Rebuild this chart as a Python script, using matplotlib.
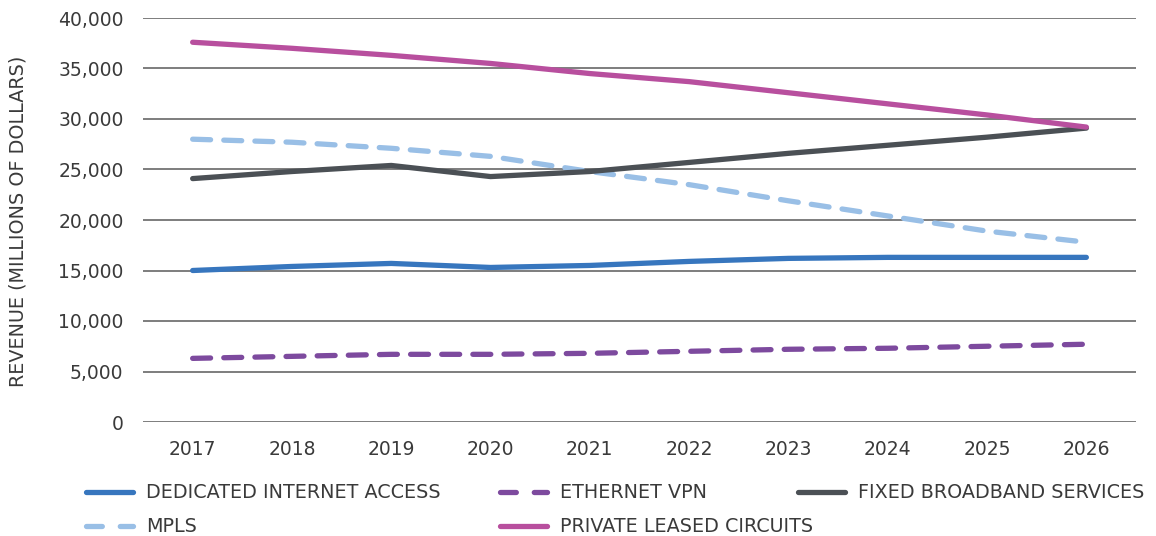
import matplotlib.pyplot as plt
from matplotlib.lines import Line2D
from matplotlib.ticker import FuncFormatter, MultipleLocator

years = ["2017", "2018", "2019", "2020", "2021", "2022", "2023", "2024", "2025", "2026"]

dedicated_internet = [15000, 15400, 15700, 15300, 15500, 15900, 16200, 16300, 16300, 16300]
ethernet_vpn = [6300, 6500, 6700, 6700, 6800, 7000, 7200, 7300, 7500, 7700]
fixed_broadband = [24100, 24800, 25400, 24300, 24800, 25700, 26600, 27400, 28200, 29100]
mpls = [28000, 27700, 27100, 26300, 24800, 23500, 21900, 20400, 18900, 17800]
private_leased = [37600, 37000, 36300, 35500, 34500, 33700, 32600, 31500, 30400, 29200]

SERIES = [
    ("DEDICATED INTERNET ACCESS", dedicated_internet, "#3776BE", "solid"),
    ("ETHERNET VPN", ethernet_vpn, "#7D4A9E", "dashed"),
    ("FIXED BROADBAND SERVICES", fixed_broadband, "#4B5055", "solid"),
    ("MPLS", mpls, "#99BFE6", "dashed"),
    ("PRIVATE LEASED CIRCUITS", private_leased, "#B84F9E", "solid"),
]

TEXT_COLOR = "#3a3a3a"
GRID_COLOR = "#5a5a5a"
LW = 3.8
DASHES = (3.4, 2.5)
FS_TICK = 13.5
FS_TEXT = 13.8

plt.rcParams["font.family"] = ["DejaVu Sans"]

W, H = 1156, 536
fig = plt.figure(figsize=(W / 100, H / 100), dpi=100)
ax = fig.add_axes([143 / W, 1 - 422 / H, (1136 - 143) / W, (422 - 18) / H])

x = list(range(len(years)))


def style_line(line, style):
    line.set_solid_capstyle("round")
    if style == "dashed":
        line.set_dashes(DASHES)
        line.set_dash_capstyle("round")


# draw in stacking order so the pink line sits on top at the 2026 crossover
for name, values, color, style in [SERIES[1], SERIES[0], SERIES[3], SERIES[2], SERIES[4]]:
    (ln,) = ax.plot(x, values, color=color, linewidth=LW, zorder=3)
    style_line(ln, style)

ax.set_xlim(-0.5, len(years) - 0.5)
ax.set_ylim(0, 40000)
ax.yaxis.set_major_locator(MultipleLocator(5000))
ax.yaxis.set_major_formatter(FuncFormatter(lambda v, _: f"{int(v):,}"))
ax.set_xticks(x)
ax.set_xticklabels(years)

ax.grid(axis="y", color=GRID_COLOR, linewidth=1.1, zorder=1)
for side in ("top", "right", "left", "bottom"):
    ax.spines[side].set_visible(False)
ax.tick_params(axis="both", length=0, labelsize=FS_TICK, colors=TEXT_COLOR)
ax.tick_params(axis="y", pad=14)
ax.tick_params(axis="x", pad=13)

fig.text(18 / W, 1 - 221 / H, "REVENUE (MILLIONS OF DOLLARS)", rotation=90,
         ha="center", va="center", fontsize=FS_TEXT, color=TEXT_COLOR)

# legend laid out by hand: two rows, three slots per row
legend_slots = [
    (SERIES[0], 83, 492),
    (SERIES[1], 497, 492),
    (SERIES[2], 795, 492),
    (SERIES[3], 83, 526),
    (SERIES[4], 497, 526),
]
for (name, _, color, style), px, py in legend_slots:
    y_fig = 1 - py / H
    handle = Line2D([(px + 3) / W, (px + 50) / W], [y_fig, y_fig], color=color,
                    linewidth=LW, transform=fig.transFigure)
    style_line(handle, style)
    if style == "dashed":
        handle.set_dashes((3.0, 3.4))
    fig.add_artist(handle)
    fig.text((px + 63) / W, y_fig, name, ha="left", va="center",
             fontsize=FS_TEXT, color=TEXT_COLOR)

fig.savefig("out.png", dpi=100)
